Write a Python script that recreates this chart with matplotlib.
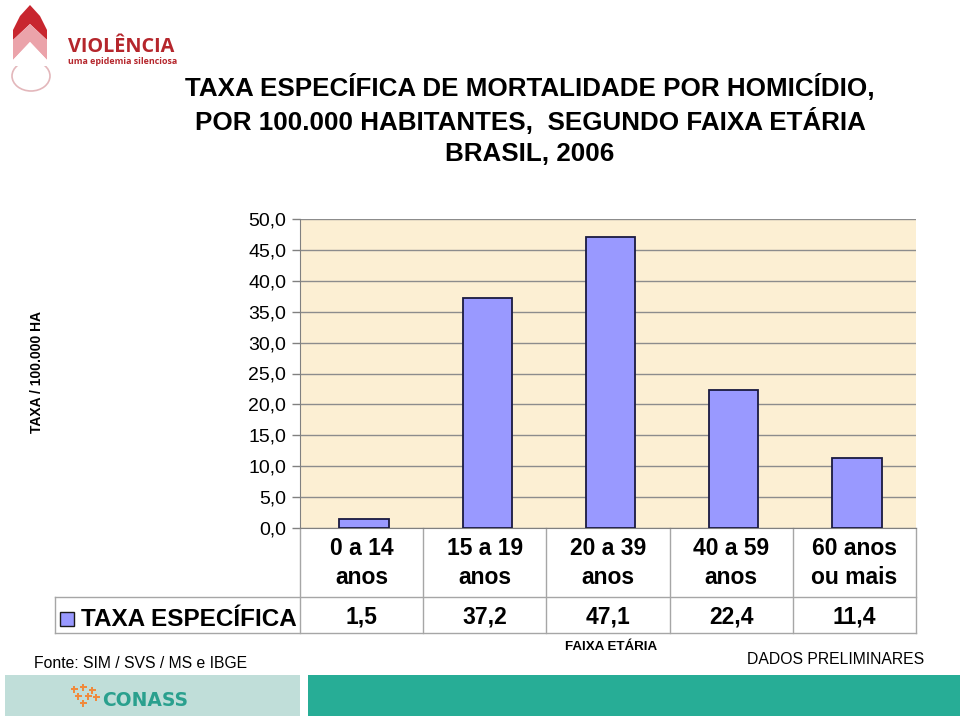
import matplotlib
matplotlib.use("Agg")
import matplotlib.pyplot as plt
from matplotlib.patches import Rectangle, Polygon, Ellipse
from matplotlib.lines import Line2D
from matplotlib.transforms import blended_transform_factory

categories = ["0 a 14\nanos", "15 a 19\nanos", "20 a 39\nanos", "40 a 59\nanos", "60 anos\nou mais"]
values = [1.5, 37.2, 47.1, 22.4, 11.4]
value_labels = ["1,5", "37,2", "47,1", "22,4", "11,4"]
yticks = [0, 5, 10, 15, 20, 25, 30, 35, 40, 45, 50]
ytick_labels = ["0,0", "5,0", "10,0", "15,0", "20,0", "25,0", "30,0", "35,0", "40,0", "45,0", "50,0"]
series_name = "TAXA ESPECÍFICA"

plt.rcParams['font.family'] = ['Liberation Sans', 'DejaVu Sans']

W, H = 960, 718
fig = plt.figure(figsize=(W / 100, H / 100), dpi=100)
fig.patch.set_facecolor("white")

def fx(x):
    return x / W

def fy(y):
    return 1 - y / H

# main axes
L, R, T, B = 300, 916, 219, 528
ax = fig.add_axes([fx(L), fy(B), (R - L) / W, (B - T) / H])
ax.set_facecolor("#fcefd3")
n = len(values)
xs = list(range(n))
ax.bar([x + 0.02 for x in xs], values, width=0.4, color="#9999ff", edgecolor="#1a1a40", linewidth=1.3, zorder=3)
ax.set_xlim(-0.5, n - 0.5)
ax.set_ylim(0, 50)
ax.set_yticks(yticks)
ax.set_yticklabels(ytick_labels, fontsize=14)
ax.tick_params(axis="y", direction="out", length=6, color="#808080", pad=4, width=1)
ax.set_xticks([])
ax.grid(axis="y", color="#8c8c8c", linewidth=1, zorder=1)
ax.set_axisbelow(True)
for s in ["top", "right"]:
    ax.spines[s].set_visible(False)
ax.spines["left"].set_color("#808080")
ax.spines["bottom"].set_color("#808080")

# data table below
axh = B - T
def ay(ypix):
    return (B - ypix) / axh

trans = blended_transform_factory(ax.transData, ax.transAxes)
tc = "#a6a6a6"
y_mid = ay(597)
y_bot = ay(633)
x_left_ax = (55 - L) / (R - L)
ax.add_line(Line2D([x_left_ax, 1], [y_mid, y_mid], transform=ax.transAxes, color=tc, lw=1, clip_on=False))
ax.add_line(Line2D([x_left_ax, 1], [y_bot, y_bot], transform=ax.transAxes, color=tc, lw=1, clip_on=False))
ax.add_line(Line2D([x_left_ax, x_left_ax], [y_mid, y_bot], transform=ax.transAxes, color=tc, lw=1, clip_on=False))
for i in range(n + 1):
    xb = i - 0.5
    ax.add_line(Line2D([xb, xb], [0, y_bot], transform=trans, color=tc, lw=1, clip_on=False))

for i, (c, v) in enumerate(zip(categories, value_labels)):
    ax.text(i, ay(563), c, transform=trans, ha="center", va="center", fontsize=16.5,
            fontweight="bold", linespacing=1.3)
    ax.text(i, ay(617), v, transform=trans, ha="center", va="center", fontsize=16.5,
            fontweight="bold")

# legend cell
fig.patches.append(Rectangle((fx(60), fy(626)), 14 / W, 14 / H, transform=fig.transFigure,
                             facecolor="#9999ff", edgecolor="#1a1a1a", lw=1))
fig.text(fx(81), fy(619), series_name, ha="left", va="center", fontsize=17.5, fontweight="bold")

# titles
for txt, yy in [("TAXA ESPECÍFICA DE MORTALIDADE POR HOMICÍDIO,", 88),
                ("POR 100.000 HABITANTES,  SEGUNDO FAIXA ETÁRIA", 121),
                ("BRASIL, 2006", 154)]:
    fig.text(fx(530), fy(yy), txt, ha="center", va="center", fontsize=18.7, fontweight="bold")

# axis titles
fig.text(fx(37), fy(372), "TAXA / 100.000 HA", rotation=90, ha="center", va="center", fontsize=10,
         fontweight="bold")
fig.text(fx(611), fy(647), "FAIXA ETÁRIA", ha="center", va="center", fontsize=9.6, fontweight="bold")
fig.text(fx(836), fy(660), "DADOS PRELIMINARES", ha="center", va="center", fontsize=11.3)
fig.text(fx(34), fy(663), "Fonte: SIM / SVS / MS e IBGE", ha="left", va="center", fontsize=11.3)

# bottom banner
fig.patches.append(Rectangle((fx(5), fy(716)), 295 / W, 41 / H, transform=fig.transFigure,
                             facecolor="#c0ded9", edgecolor="none"))
fig.patches.append(Rectangle((fx(308), fy(716)), 652 / W, 41 / H, transform=fig.transFigure,
                             facecolor="#27ad96", edgecolor="none"))

def cross(cx, cy, s, color):
    a = s / 3
    pts = [(cx - a / 2, cy - s / 2), (cx + a / 2, cy - s / 2), (cx + a / 2, cy - a / 2),
           (cx + s / 2, cy - a / 2), (cx + s / 2, cy + a / 2), (cx + a / 2, cy + a / 2),
           (cx + a / 2, cy + s / 2), (cx - a / 2, cy + s / 2), (cx - a / 2, cy + a / 2),
           (cx - s / 2, cy + a / 2), (cx - s / 2, cy - a / 2), (cx - a / 2, cy - a / 2)]
    fig.patches.append(Polygon([(fx(x), fy(y)) for x, y in pts], closed=True, transform=fig.transFigure,
                               facecolor=color, edgecolor="none"))
for (cx, cy) in [(74, 689), (83, 687), (92, 690), (78, 696), (88, 696), (96, 697), (83, 703)]:
    cross(cx, cy, 7, "#f08a3c")
fig.text(fx(102), fy(701), "CONASS", ha="left", va="center", fontsize=13.5, fontweight="bold",
         color="#2aa08e", family=["DejaVu Sans"])

# VIOLENCIA logo
red = Polygon([(fx(x), fy(y)) for x, y in [(30, 5), (40, 16), (47, 30), (47, 40), (30, 24), (13, 40), (13, 30), (20, 16)]],
              closed=True, transform=fig.transFigure, facecolor="#c8262f", edgecolor="none")
pink = Polygon([(fx(x), fy(y)) for x, y in [(30, 24), (47, 40), (47, 60), (30, 42), (13, 60), (13, 40)]],
               closed=True, transform=fig.transFigure, facecolor="#eba3aa", edgecolor="none")
fig.patches.extend([red, pink])
fig.patches.append(Ellipse((fx(31), fy(76)), 38 / W, 30 / H, transform=fig.transFigure,
                           facecolor="white", edgecolor="#e3b7bb", lw=1.2))
fig.patches.append(Polygon([(fx(x), fy(y)) for x, y in [(30, 42), (47, 60), (47, 66), (13, 66), (13, 60)]],
                           closed=True, transform=fig.transFigure, facecolor="white", edgecolor="none"))
fig.text(fx(68), fy(47), "VIOLÊNCIA", ha="left", va="center", fontsize=14.3, fontweight="bold",
         color="#b5262c", family=["Open Sans", "DejaVu Sans"])
fig.text(fx(68), fy(62), "uma epidemia silenciosa", ha="left", va="center", fontsize=6.4,
         fontweight="bold", color="#b5262c", family=["Open Sans", "DejaVu Sans"])

fig.savefig("out.png", dpi=100, facecolor="white")
